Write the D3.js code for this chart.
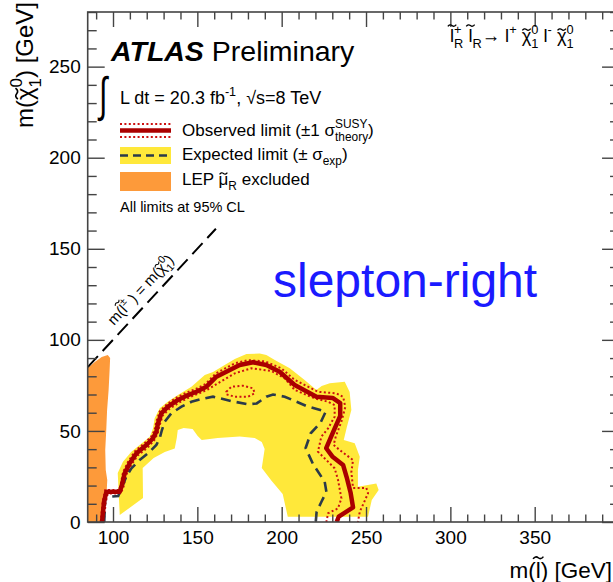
<!DOCTYPE html>
<html><head><meta charset="utf-8">
<script src="https://cdn.jsdelivr.net/npm/d3@7"></script>
<style>
html,body{margin:0;padding:0;background:#fff;}
svg{display:block;}
text{font-family:"Liberation Sans",Arial,Helvetica,sans-serif;white-space:pre;}
</style></head><body><svg id="chart" width="613" height="582"></svg>
<script>
// ---- data: (m(slepton), m(neutralino)) in GeV ----
const xMajorTicks = [100, 150, 200, 250, 300, 350, 400];
const xTickLabels = [100, 150, 200, 250, 300, 350];
const yMajorTicks = [0, 50, 100, 150, 200, 250];

const lepExcluded = [[85,0],[85,84.5],[89.2,87.8],[93.3,90.6],[96.9,91.7],[98.3,90.0],[98.0,83.5],[97.4,72.5],[96.5,61.5],[96.0,50.5],[95.4,39.5],[95.7,28.5],[96.6,23.1],[96.3,17.6],[94.8,12.1],[93.9,6.6],[93.0,0]];

const expectedBandOuter = [[104.0,3.8],[102.8,26.9],[105.9,33.1],[110.9,38.6],[115.8,42.3],[121.8,46.8],[123.7,51.4],[124.7,56.9],[127.7,62.4],[132.6,66.1],[138.5,69.7],[146.5,74.3],[154.4,80.7],[159.3,82.4],[166.2,86.2],[172.2,89.5],[179.1,92.2],[187.0,92.5],[190.9,91.7],[195.9,88.9],[204.8,84.4],[213.6,78.0],[220.6,72.5],[223.7,74.7],[228.5,76.2],[237.4,77.0],[240.3,71.4],[241.3,61.5],[238.5,51.6],[236.8,45.0],[243.3,43.2],[246.3,35.8],[245.2,28.5],[245.2,19.4],[256.1,21.2],[257.5,17.6],[253.4,12.1],[251.2,2.9]];
const expectedBandInner = [[203.6,2.9],[200.6,15.4],[194.1,22.5],[188.2,29.6],[189.9,40.1],[188.2,43.9],[184.0,46.1],[175.1,46.9],[162.1,46.1],[152.6,45.0],[150.2,47.2],[147.2,51.0],[141.9,51.6],[138.4,50.5],[137.8,46.1],[136.6,40.4],[130.7,38.4],[124.1,35.1],[117.6,29.6],[117.8,13.2]];

const expectedLimit = [[94.8,0],[95.4,13.7],[103.1,14.3],[105.0,18.5],[107.9,24.9],[110.9,29.5],[115.8,34.0],[121.8,38.6],[125.7,42.3],[127.7,46.0],[129.0,50.5],[130.7,55.1],[134.6,59.7],[140.6,63.3],[146.5,66.0],[152.4,67.5],[159.3,68.8],[171.1,66.2],[180.0,64.6],[185.2,65.1],[190.9,68.8],[194.9,70.0],[201.8,68.8],[214.7,63.7],[226.1,60.6],[223.1,54.6],[217.2,48.7],[214.2,40.6],[218.6,31.8],[225.5,22.1],[226.5,16.6],[223.5,11.0],[220.7,5.5],[220.2,0]];

const observedLimit = [[93.5,0],[94.7,11.1],[96.1,16.6],[104.0,16.6],[105.3,20.3],[106.9,26.7],[109.9,32.2],[113.9,37.7],[119.8,42.3],[123.7,46.0],[125.7,49.6],[126.7,54.2],[128.7,59.7],[132.6,63.3],[138.5,67.0],[144.5,69.7],[149.4,71.5],[155.4,74.3],[161.3,79.8],[167.2,82.5],[175.1,86.2],[183.0,87.7],[190.9,86.2],[198.8,82.5],[207.7,75.2],[220.6,68.8],[230.2,68.1],[234.7,65.3],[234.7,58.2],[230.8,50.0],[226.4,40.5],[230.0,36.0],[236.4,31.3],[238.5,24.7],[240.9,15.9],[242.3,8.0],[233.8,2.9],[232.6,0]];

const observedPlusSigma = [[92.7,0],[93.9,11.5],[95.4,17.6],[103.7,17.6],[104.6,20.9],[106.0,27.5],[109.0,33.2],[113.2,39.0],[119.1,43.6],[122.9,47.2],[124.7,50.5],[125.6,54.9],[127.7,60.7],[131.8,64.5],[137.8,68.4],[143.7,71.1],[149.0,73.0],[154.9,75.8],[160.9,81.5],[166.8,84.5],[172.2,87.1],[180.0,88.9],[189.9,88.2],[199.8,84.4],[207.7,78.0],[221.5,71.5],[232.6,70.6],[236.5,68.6],[237.7,63.1],[235.4,55.1],[232.0,46.7],[230.8,42.3],[234.4,39.5],[242.3,34.0],[241.3,27.4],[242.3,18.7],[250.2,18.7],[251.2,15.8],[248.6,10.3],[246.3,5.7],[245.2,0]];

const observedMinusSigma = [[94.5,0],[95.7,11.0],[96.9,15.6],[104.6,15.6],[106.3,19.5],[107.8,25.8],[110.8,31.3],[114.6,36.5],[120.6,40.9],[124.4,44.8],[126.5,48.6],[127.7,53.3],[129.5,58.5],[133.3,62.0],[139.2,65.6],[145.2,68.4],[150.2,70.3],[156.1,72.7],[162.2,76.2],[172.2,81.6],[182.0,84.4],[193.9,82.9],[201.8,78.9],[207.7,72.5],[219.6,67.9],[227.5,66.0],[231.4,64.2],[231.4,57.8],[227.5,51.4],[223.5,46.8],[221.5,38.6],[226.5,34.0],[231.4,29.5],[233.4,23.1],[235.4,13.0],[233.4,7.5],[227.5,4.8],[226.5,0]];

const observedMinusSigmaIsland = [[167.2,71.5],[170.2,74.3],[177.1,74.8],[183.0,73.4],[184.0,70.7],[180.0,68.8],[172.1,68.8],[167.2,70.1]];

const kinematicLimit = [[85,85],[161,161]];

// ---- layout ----
const svg = d3.select('#chart');
const x = d3.scaleLinear().domain([85, 400]).range([87.7, 87.7 + 315 * 1.6868]);
const y = d3.scaleLinear().domain([0, 280]).range([522, 12]);

const C = {
  yellow: '#ffe83a', orange: '#fd9a3a', red: '#aa0000', dotRed: '#cc1111',
  dash: '#2b3a4a', frame: '#444'
};

svg.append('defs').append('clipPath').attr('id', 'plotClip')
  .append('rect').attr('x', x(85)).attr('y', y(280))
  .attr('width', x(400) - x(85)).attr('height', y(0) - y(280));

const plot = svg.append('g').attr('clip-path', 'url(#plotClip)');
const line = d3.line().x(d => x(d[0])).y(d => y(d[1]));

// expected +-1 sigma band (outer edge then inner edge back)
plot.append('path')
  .attr('d', line(expectedBandOuter.concat(expectedBandInner)) + 'Z')
  .attr('fill', C.yellow);

// LEP exclusion
plot.append('path').attr('d', line(lepExcluded) + 'Z').attr('fill', C.orange);

// observed +-1 sigma theory
[observedPlusSigma, observedMinusSigma].forEach(s => {
  plot.append('path').attr('d', line(s)).attr('fill', 'none')
    .attr('stroke', C.dotRed).attr('stroke-width', 2).attr('stroke-dasharray', '2,2.4');
});
plot.append('path').attr('d', line(observedMinusSigmaIsland) + 'Z').attr('fill', 'none')
  .attr('stroke', C.dotRed).attr('stroke-width', 2).attr('stroke-dasharray', '2,2.4');

// expected limit
plot.append('path').attr('d', line(expectedLimit)).attr('fill', 'none')
  .attr('stroke', C.dash).attr('stroke-width', 2.6).attr('stroke-dasharray', '10,6');

// observed limit
plot.append('path').attr('d', line(observedLimit)).attr('fill', 'none')
  .attr('stroke', C.red).attr('stroke-width', 4.5).attr('stroke-linejoin', 'round');

// kinematic boundary
plot.append('path').attr('d', line(kinematicLimit)).attr('fill', 'none')
  .attr('stroke', '#000').attr('stroke-width', 2).attr('stroke-dasharray', '15,7');

// ---- axes ----
const xMinor = d3.range(90, 401, 10).filter(v => v % 50 !== 0);
const yMinor = d3.range(10, 281, 10).filter(v => v % 50 !== 0);
const yMajorAll = d3.range(0, 281, 50);

function styleAxis(g) {
  g.selectAll('.domain').remove();
  g.selectAll('line').attr('stroke', C.frame).attr('stroke-width', 1.4);
  g.selectAll('text').style('font-size', '19px').style('fill', '#000');
}
// bottom
svg.append('g').attr('transform', `translate(0,${y(0)})`)
  .call(d3.axisBottom(x).tickValues(xMajorTicks).tickSize(-15).tickPadding(9)
    .tickFormat(d => xTickLabels.includes(d) ? d3.format('d')(d) : ''))
  .call(styleAxis);
svg.append('g').attr('transform', `translate(0,${y(0)})`)
  .call(d3.axisBottom(x).tickValues(xMinor).tickSize(-7.5).tickFormat(''))
  .call(styleAxis);
// top
svg.append('g').attr('transform', `translate(0,${y(280)})`)
  .call(d3.axisTop(x).tickValues(xMajorTicks).tickSize(-15).tickFormat('')).call(styleAxis);
svg.append('g').attr('transform', `translate(0,${y(280)})`)
  .call(d3.axisTop(x).tickValues(xMinor).tickSize(-7.5).tickFormat('')).call(styleAxis);
// left
svg.append('g').attr('transform', `translate(${x(85)},0)`)
  .call(d3.axisLeft(y).tickValues(yMajorTicks).tickSize(-17).tickPadding(7).tickFormat(d3.format('d')))
  .call(styleAxis);
svg.append('g').attr('transform', `translate(${x(85)},0)`)
  .call(d3.axisLeft(y).tickValues(yMinor).tickSize(-9).tickFormat('')).call(styleAxis);
// right
svg.append('g').attr('transform', `translate(${x(400)},0)`)
  .call(d3.axisRight(y).tickValues(yMajorAll).tickSize(-17).tickFormat('')).call(styleAxis);
svg.append('g').attr('transform', `translate(${x(400)},0)`)
  .call(d3.axisRight(y).tickValues(yMinor).tickSize(-9).tickFormat('')).call(styleAxis);

// frame
svg.append('rect').attr('x', x(85)).attr('y', y(280))
  .attr('width', x(400) - x(85)).attr('height', y(0) - y(280))
  .attr('fill', 'none').attr('stroke', C.frame).attr('stroke-width', 1.6);

// ---- rich text helper: runs of text with sub/superscripts and tilde accents ----
function rich(parent, px, py, parts, size, opts = {}) {
  const g = parent.append('g');
  const inner = g.append('g');
  let cursor = 0, lastStart = 0;
  parts.forEach(p => {
    const fs = size * (p.s || 1);
    const start = p.stack ? lastStart : cursor;
    const by = (p.dy || 0) * size;
    const colour = p.fill || '#000';
    const t = inner.append('text').attr('x', start).attr('y', by)
      .style('font-size', fs + 'px').style('fill', colour).text(p.t);
    if (p.weight) t.style('font-weight', p.weight);
    if (p.italic) t.style('font-style', 'italic');
    const w = t.node().getComputedTextLength();
    if (p.tilde) {
      // tilde accent drawn as a small wave over the last glyph of this run
      let lw = 0;
      if (p.t.length > 1) {
        const lead = inner.append('text').style('font-size', fs + 'px').text(p.t.slice(0, -1));
        lw = lead.node().getComputedTextLength();
        lead.remove();
      }
      const cx = start + lw + (w - lw) / 2;
      const yb = by - (p.tilde === 'high' ? 0.9 : 0.68) * fs;
      const hw = 0.23 * fs, a = 0.05 * fs;
      inner.append('path')
        .attr('d', `M${cx - hw},${yb + a}Q${cx - hw / 2},${yb - 2 * a} ${cx},${yb}T${cx + hw},${yb - a}`)
        .attr('fill', 'none').attr('stroke', colour).attr('stroke-width', 0.07 * fs);
    }
    if (p.stack) cursor = Math.max(cursor, start + w);
    else { lastStart = cursor; cursor += w; }
  });
  const shift = opts.anchor === 'end' ? -cursor : opts.anchor === 'middle' ? -cursor / 2 : 0;
  inner.attr('transform', `translate(${shift},0)`);
  g.attr('transform', `translate(${px},${py})` + (opts.rotate ? ` rotate(${opts.rotate})` : ''));
  return g;
}
const sup = (t, stack) => ({ t, s: 0.7, dy: -0.45, stack: !!stack });
const sub = (t, stack) => ({ t, s: 0.7, dy: 0.32, stack: !!stack });

// axis titles
rich(svg, 612, 578, [{ t: 'm(' }, { t: 'l', tilde: 'high' }, { t: ') [GeV]' }], 22.5, { anchor: 'end' });
rich(svg, 33, 2, [{ t: 'm(' }, { t: '\u03C7', tilde: 'low' }, sup('0'), sub('1', true), { t: ') [GeV]' }], 24,
  { anchor: 'end', rotate: -90 });

// ATLAS label
rich(svg, 111, 61, [{ t: 'ATLAS', weight: 'bold', italic: true }, { t: ' Preliminary' }], 28.5);
svg.append('text').attr('transform', 'translate(99,111) scale(1,1.6)')
  .style('font-size', '30px').style('fill', '#000').text('\u222B');
rich(svg, 120, 104, [{ t: 'L dt = 20.3 fb' }, sup('-1'), { t: ', \u221As=8 TeV' }], 18);

// process label
rich(svg, 450, 42, [
  { t: 'l', tilde: 'high' }, sup('+'), sub('R', true), { t: ' l', tilde: 'high' }, sub('R'),
  { t: '\u2192 l' }, sup('+'), { t: ' \u03C7', tilde: 'low' }, sup('0'), sub('1', true),
  { t: ' l' }, sup('-'), { t: ' \u03C7', tilde: 'low' }, sup('0'), sub('1', true)
], 18.3);

// legend
const lg = svg.append('g');
lg.append('line').attr('x1', 120).attr('x2', 171).attr('y1', 124).attr('y2', 124)
  .attr('stroke', C.dotRed).attr('stroke-width', 2).attr('stroke-dasharray', '2,2.4');
lg.append('line').attr('x1', 120).attr('x2', 171).attr('y1', 137).attr('y2', 137)
  .attr('stroke', C.dotRed).attr('stroke-width', 2).attr('stroke-dasharray', '2,2.4');
lg.append('line').attr('x1', 120).attr('x2', 171).attr('y1', 130.5).attr('y2', 130.5)
  .attr('stroke', C.red).attr('stroke-width', 4.5);
lg.append('rect').attr('x', 120).attr('y', 147).attr('width', 51).attr('height', 17).attr('fill', C.yellow);
lg.append('line').attr('x1', 120).attr('x2', 171).attr('y1', 155.5).attr('y2', 155.5)
  .attr('stroke', C.dash).attr('stroke-width', 2.6).attr('stroke-dasharray', '8,5');
lg.append('rect').attr('x', 120).attr('y', 172).attr('width', 51).attr('height', 19).attr('fill', C.orange);

rich(lg, 182, 136, [{ t: 'Observed limit (\u00B11 \u03C3' }, sup('SUSY'), sub('theory', true), { t: ')' }], 17);
rich(lg, 182, 160, [{ t: 'Expected limit (\u00B1 \u03C3' }, sub('exp'), { t: ')' }], 17);
rich(lg, 182, 185, [{ t: 'LEP ' }, { t: '\u03BC', tilde: 'low' }, sub('R'), { t: ' excluded' }], 17);
lg.append('text').attr('x', 120).attr('y', 212).style('font-size', '14.5px').style('fill', '#000')
  .text('All limits at 95% CL');

// kinematic line label
const ang = -Math.atan((y(0) - y(1)) / (x(1) - x(0))) * 180 / Math.PI;
rich(svg, 114, 326, [
  { t: 'm(' }, { t: 'l', tilde: 'high' }, sup('\u00B1'), { t: ' ) = m(' }, { t: '\u03C7', tilde: 'low' },
  sup('0'), sub('1', true), { t: ')' }
], 15, { rotate: ang });

// signal model label
svg.append('text').attr('x', 273).attr('y', 297).style('font-size', '48px')
  .style('fill', '#1a1aff').text('slepton-right');
</script></body></html>
